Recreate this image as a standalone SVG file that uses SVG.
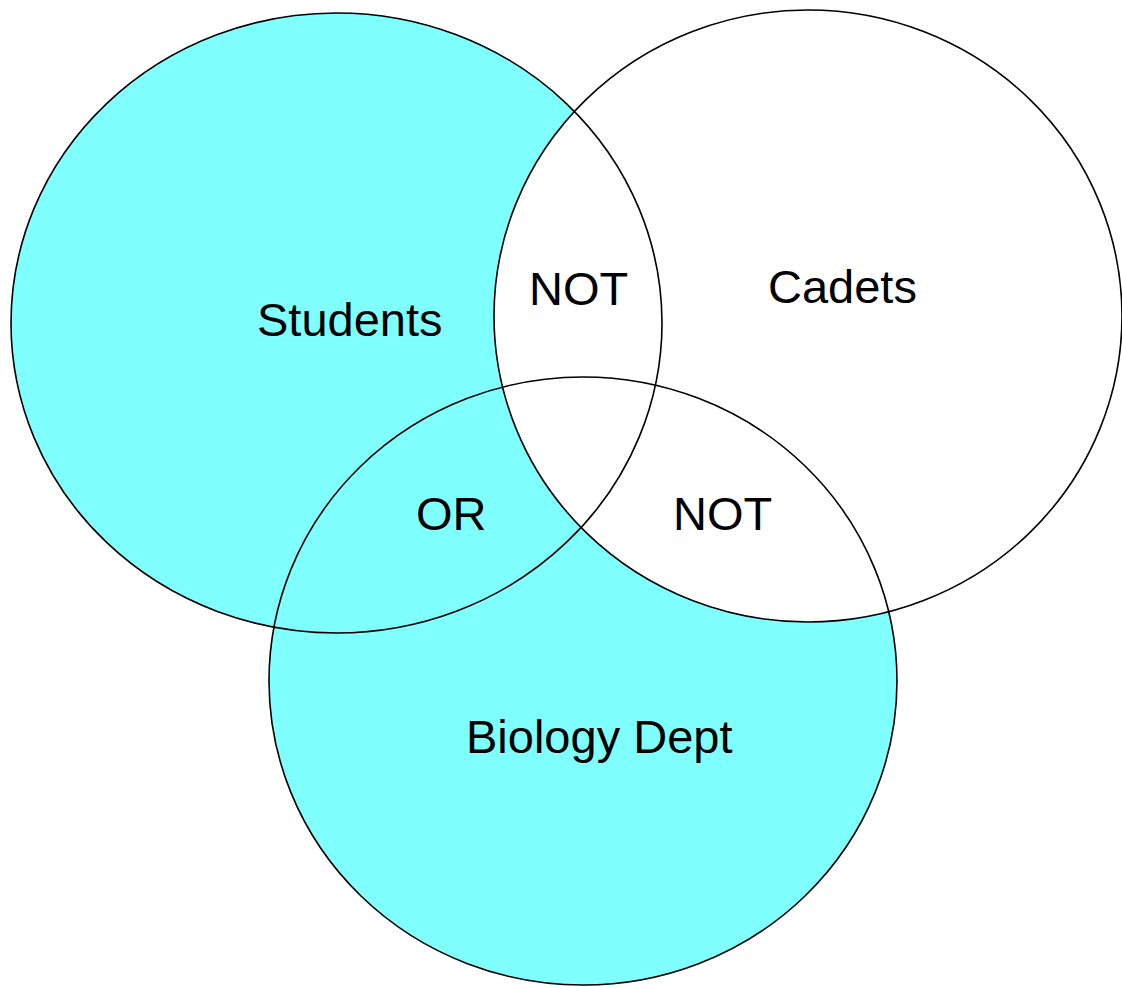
<svg xmlns="http://www.w3.org/2000/svg" width="1122" height="987" viewBox="0 0 1122 987">
<style>
.outline{fill:none;stroke:#000;stroke-width:1.6}
.lbl{font-family:"Liberation Sans",Arial,sans-serif;font-size:47px;fill:#000}
</style>
<rect width="1122" height="987" fill="#fff"/>
<g id="fills">
<ellipse cx="336.5" cy="323" rx="325.5" ry="310" fill="#80FFFF"/>
<ellipse cx="583" cy="681" rx="314" ry="304" fill="#80FFFF"/>
<ellipse cx="808" cy="316" rx="314" ry="306" fill="#FFFFFF"/>
</g>
<g id="students">
<ellipse class="outline" cx="336.5" cy="323" rx="325.5" ry="310"/>
<text class="lbl" x="257" y="336">Students</text>
</g>
<g id="cadets">
<ellipse class="outline" cx="808" cy="316" rx="314" ry="306"/>
<text class="lbl" x="768" y="303">Cadets</text>
</g>
<g id="biology">
<ellipse class="outline" cx="583" cy="681" rx="314" ry="304"/>
<text class="lbl" x="466" y="753">Biology Dept</text>
</g>
<g id="region-labels">
<text class="lbl" x="529" y="305">NOT</text>
<text class="lbl" x="416" y="530">OR</text>
<text class="lbl" x="673" y="530">NOT</text>
</g>
</svg>
